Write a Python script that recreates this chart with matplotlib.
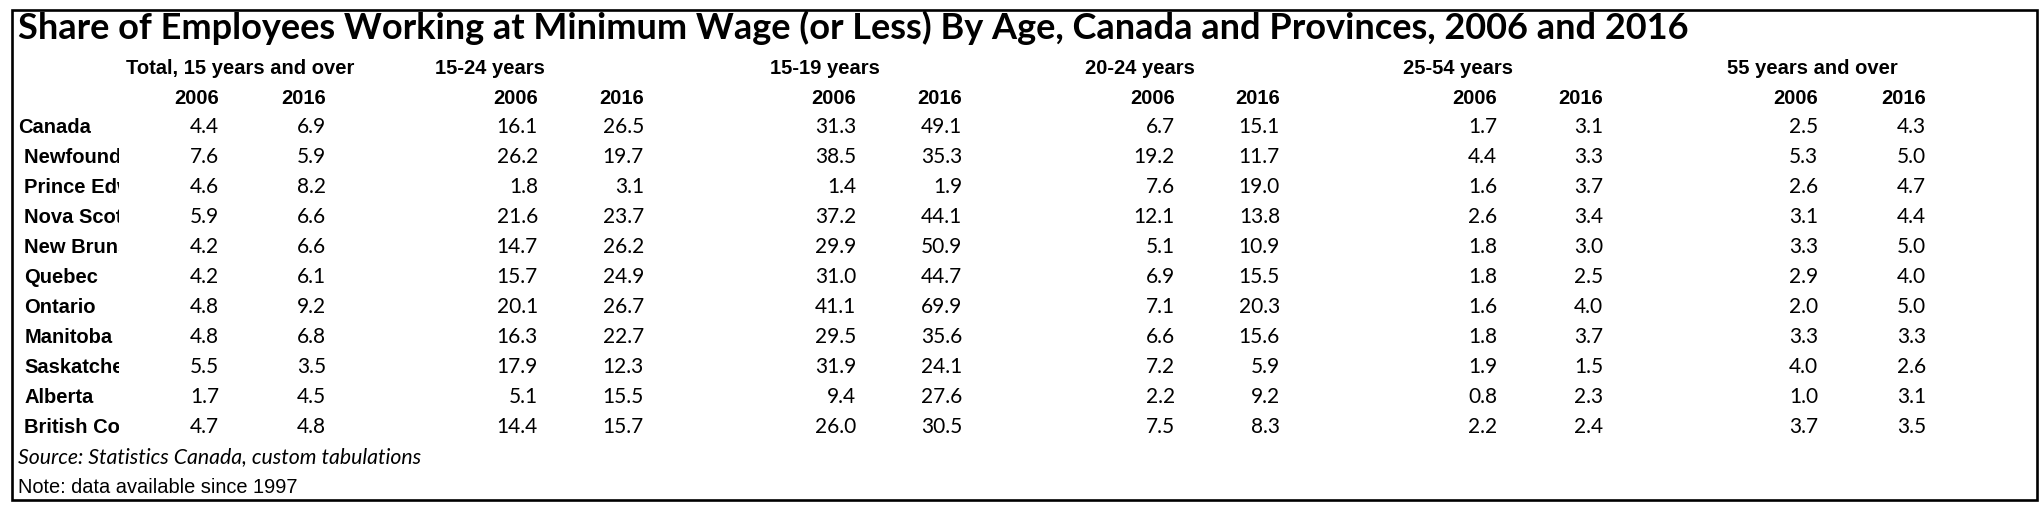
import matplotlib
matplotlib.use("Agg")
import matplotlib.pyplot as plt
from matplotlib.patches import Rectangle
from matplotlib.transforms import Bbox, TransformedBbox

title = "Share of Employees Working at Minimum Wage (or Less) By Age, Canada and Provinces, 2006 and 2016"
source = "Source: Statistics Canada, custom tabulations"
note = "Note: data available since 1997"

regions = ["Canada", "Newfoundland and Labrador", "Prince Edward Island", "Nova Scotia",
           "New Brunswick", "Quebec", "Ontario", "Manitoba", "Saskatchewan", "Alberta",
           "British Columbia"]
groups = ["Total, 15 years and over", "15-24 years", "15-19 years", "20-24 years",
          "25-54 years", "55 years and over"]
years = ["2006", "2016"]

total_2006 = [4.4, 7.6, 4.6, 5.9, 4.2, 4.2, 4.8, 4.8, 5.5, 1.7, 4.7]
total_2016 = [6.9, 5.9, 8.2, 6.6, 6.6, 6.1, 9.2, 6.8, 3.5, 4.5, 4.8]
y1524_2006 = [16.1, 26.2, 1.8, 21.6, 14.7, 15.7, 20.1, 16.3, 17.9, 5.1, 14.4]
y1524_2016 = [26.5, 19.7, 3.1, 23.7, 26.2, 24.9, 26.7, 22.7, 12.3, 15.5, 15.7]
y1519_2006 = [31.3, 38.5, 1.4, 37.2, 29.9, 31.0, 41.1, 29.5, 31.9, 9.4, 26.0]
y1519_2016 = [49.1, 35.3, 1.9, 44.1, 50.9, 44.7, 69.9, 35.6, 24.1, 27.6, 30.5]
y2024_2006 = [6.7, 19.2, 7.6, 12.1, 5.1, 6.9, 7.1, 6.6, 7.2, 2.2, 7.5]
y2024_2016 = [15.1, 11.7, 19.0, 13.8, 10.9, 15.5, 20.3, 15.6, 5.9, 9.2, 8.3]
y2554_2006 = [1.7, 4.4, 1.6, 2.6, 1.8, 1.8, 1.6, 1.8, 1.9, 0.8, 2.2]
y2554_2016 = [3.1, 3.3, 3.7, 3.4, 3.0, 2.5, 4.0, 3.7, 1.5, 2.3, 2.4]
y55_2006 = [2.5, 5.3, 2.6, 3.1, 3.3, 2.9, 2.0, 3.3, 4.0, 1.0, 3.7]
y55_2016 = [4.3, 5.0, 4.7, 4.4, 5.0, 4.0, 5.0, 3.3, 2.6, 3.1, 3.5]

series = [(total_2006, total_2016), (y1524_2006, y1524_2016), (y1519_2006, y1519_2016),
          (y2024_2006, y2024_2016), (y2554_2006, y2554_2016), (y55_2006, y55_2016)]

# layout in pixel units (figure is 2040 x 514)
W, H = 2040, 514
col_right = [(219, 326), (538, 644), (856, 962), (1175, 1280), (1497, 1603), (1818, 1926)]
group_left = [126, 435, 770, 1085, 1403, 1727]
row0, row_step = 133, 30
label_clip = 119.5  # row labels are cut off at the cell edge, like in the sheet

fig = plt.figure(figsize=(W / 100, H / 100), dpi=100)
ax = fig.add_axes([0, 0, 1, 1])
ax.set_xlim(0, W)
ax.set_ylim(H, 0)
ax.axis("off")

ax.add_patch(Rectangle((12.5, 9.5), 2025, 490.5, fill=False, lw=1.9, ec="black"))

ax.text(18, 39, title, fontsize=26, fontweight="bold", family="Lato", va="baseline")

for g, name in enumerate(groups):
    ax.text(group_left[g], 74, name, fontsize=14.5, fontweight="bold",
            family="Liberation Sans", va="baseline")
    for k, yr in enumerate(years):
        ax.text(col_right[g][k], 104, yr, fontsize=14.5, fontweight="bold",
                family="Liberation Sans", va="baseline", ha="right")

clip = TransformedBbox(Bbox([[0, 0], [label_clip, H]]), ax.transData)
for i, reg in enumerate(regions):
    y = row0 + row_step * i
    x = 18 if i == 0 else 24.5
    t = ax.text(x, y, reg, fontsize=14.5, fontweight="bold", family="Liberation Sans",
                va="baseline")
    t.set_clip_box(clip)
    t.set_clip_on(True)
    for g, pair in enumerate(series):
        for k in range(2):
            ax.text(col_right[g][k], y, f"{pair[k][i]:.1f}", fontsize=15, family="Lato",
                    va="baseline", ha="right")

ax.text(18, 463, source, fontsize=15.3, family="Lato", style="italic", va="baseline")
ax.text(18, 493, note, fontsize=14.4, family="Liberation Sans", va="baseline")

fig.savefig("out.png", dpi=100)
